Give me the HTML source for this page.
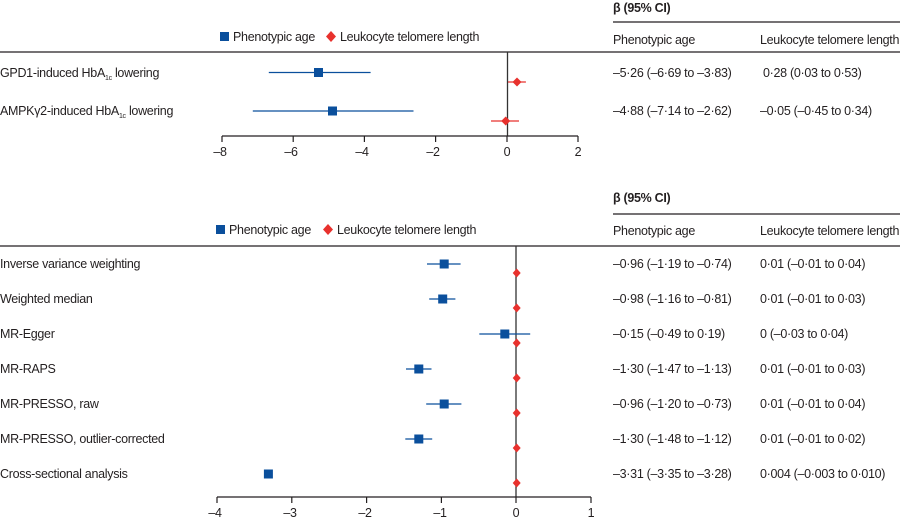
<!DOCTYPE html>
<html><head><meta charset="utf-8"><style>
html,body{margin:0;padding:0;background:#fff;}
svg{display:block;font-family:"Liberation Sans",sans-serif;}
text{font-size:12.5px;letter-spacing:-0.3px;fill:#231f20;}
</style></head><body>
<svg width="900" height="517" viewBox="0 0 900 517">
<!-- TOP PANEL -->
<text x="613" y="12" style="font-weight:bold">β (95% CI)</text>
<line x1="613" y1="22" x2="900" y2="22" stroke="#231f20" stroke-width="1.2"/>
<rect x="220" y="32" width="9" height="9" fill="#0a4f9c"/>
<text x="233" y="41">Phenotypic age</text>
<path d="M331 31 L336 36.5 L331 42 L326 36.5Z" fill="#e8312d"/>
<text x="340" y="41">Leukocyte telomere length</text>
<text x="613" y="44">Phenotypic age</text>
<text x="760" y="44">Leukocyte telomere length</text>
<line x1="0" y1="52" x2="900" y2="52" stroke="#231f20" stroke-width="1.3"/>
<text x="0" y="77">GPD1-induced HbA<tspan font-size="7" dy="3">1c</tspan><tspan dy="-3"> lowering</tspan></text>
<text x="0" y="115">AMPKγ2-induced HbA<tspan font-size="7" dy="3">1c</tspan><tspan dy="-3"> lowering</tspan></text>
<text x="613" y="77">–5·26 (–6·69 to –3·83)</text>
<text x="763" y="77">0·28 (0·03 to 0·53)</text>
<text x="613" y="115">–4·88 (–7·14 to –2·62)</text>
<text x="760" y="115">–0·05 (–0·45 to 0·34)</text>
<line x1="507.5" y1="52" x2="507.5" y2="136" stroke="#333" stroke-width="1.3"/>
<line x1="268.8" y1="72.5" x2="370.6" y2="72.5" stroke="#0a4f9c" stroke-width="1.3"/>
<rect x="314" y="68" width="9" height="9" fill="#0a4f9c"/>
<line x1="508" y1="82" x2="525.9" y2="82" stroke="#e8312d" stroke-width="1.3"/>
<path d="M517 77.5 L521.5 82 L517 86.5 L512.5 82Z" fill="#e8312d"/>
<line x1="252.8" y1="111" x2="413.5" y2="111" stroke="#0a4f9c" stroke-width="1.3"/>
<rect x="328" y="106.5" width="9" height="9" fill="#0a4f9c"/>
<line x1="491" y1="121" x2="519" y2="121" stroke="#e8312d" stroke-width="1.3"/>
<path d="M505.7 116.5 L510.2 121 L505.7 125.5 L501.2 121Z" fill="#e8312d"/>
<line x1="222" y1="136" x2="578" y2="136" stroke="#231f20" stroke-width="1.2"/>
<g stroke="#231f20" stroke-width="1.2">
<line x1="222" y1="136" x2="222" y2="142"/><line x1="293.2" y1="136" x2="293.2" y2="142"/>
<line x1="364.4" y1="136" x2="364.4" y2="142"/><line x1="435.6" y1="136" x2="435.6" y2="142"/>
<line x1="507" y1="136" x2="507" y2="142"/><line x1="578" y1="136" x2="578" y2="142"/></g>
<g text-anchor="middle">
<text x="220" y="156">–8</text><text x="291" y="156">–6</text><text x="362" y="156">–4</text>
<text x="433" y="156">–2</text><text x="507" y="156">0</text><text x="578" y="156">2</text></g>

<!-- BOTTOM PANEL -->
<text x="613" y="202" style="font-weight:bold">β (95% CI)</text>
<line x1="613" y1="214" x2="900" y2="214" stroke="#231f20" stroke-width="1.2"/>
<rect x="216" y="225" width="9" height="9" fill="#0a4f9c"/>
<text x="229" y="234">Phenotypic age</text>
<path d="M328 224 L333 229.5 L328 235 L323 229.5Z" fill="#e8312d"/>
<text x="337" y="234">Leukocyte telomere length</text>
<text x="613" y="235">Phenotypic age</text>
<text x="760" y="235">Leukocyte telomere length</text>
<line x1="0" y1="246" x2="900" y2="246" stroke="#231f20" stroke-width="1.3"/>
<line x1="516" y1="246" x2="516" y2="497" stroke="#333" stroke-width="1.3"/>

<text x="0" y="268">Inverse variance weighting</text>
<text x="0" y="303">Weighted median</text>
<text x="0" y="338">MR-Egger</text>
<text x="0" y="373">MR-RAPS</text>
<text x="0" y="408">MR-PRESSO, raw</text>
<text x="0" y="443">MR-PRESSO, outlier-corrected</text>
<text x="0" y="478">Cross-sectional analysis</text>

<text x="613" y="268">–0·96 (–1·19 to –0·74)</text>
<text x="613" y="303">–0·98 (–1·16 to –0·81)</text>
<text x="613" y="338">–0·15 (–0·49 to 0·19)</text>
<text x="613" y="373">–1·30 (–1·47 to –1·13)</text>
<text x="613" y="408">–0·96 (–1·20 to –0·73)</text>
<text x="613" y="443">–1·30 (–1·48 to –1·12)</text>
<text x="613" y="478">–3·31 (–3·35 to –3·28)</text>
<text x="760" y="268">0·01 (–0·01 to 0·04)</text>
<text x="760" y="303">0·01 (–0·01 to 0·03)</text>
<text x="760" y="338">0 (–0·03 to 0·04)</text>
<text x="760" y="373">0·01 (–0·01 to 0·03)</text>
<text x="760" y="408">0·01 (–0·01 to 0·04)</text>
<text x="760" y="443">0·01 (–0·01 to 0·02)</text>
<text x="760" y="478">0·004 (–0·003 to 0·010)</text>

<g stroke="#0a4f9c" stroke-width="1.3">
<line x1="427" y1="264" x2="460.6" y2="264"/>
<line x1="429.2" y1="299" x2="455.4" y2="299"/>
<line x1="479.3" y1="334" x2="530.2" y2="334"/>
<line x1="406" y1="369" x2="431.5" y2="369"/>
<line x1="426.2" y1="404" x2="461.4" y2="404"/>
<line x1="405.3" y1="439" x2="432.2" y2="439"/>
</g>
<g fill="#0a4f9c">
<rect x="439.7" y="259.5" width="9" height="9"/>
<rect x="438.2" y="294.5" width="9" height="9"/>
<rect x="500.3" y="329.5" width="9" height="9"/>
<rect x="414.3" y="364.5" width="9" height="9"/>
<rect x="439.7" y="399.5" width="9" height="9"/>
<rect x="414.3" y="434.5" width="9" height="9"/>
<rect x="263.9" y="469.5" width="9" height="9"/>
</g>
<g fill="#e8312d">
<path d="M516.7 268.5 L520.7 273 L516.7 277.5 L512.7 273Z"/>
<path d="M516.7 303.5 L520.7 308 L516.7 312.5 L512.7 308Z"/>
<path d="M516.7 338.5 L520.7 343 L516.7 347.5 L512.7 343Z"/>
<path d="M516.7 373.5 L520.7 378 L516.7 382.5 L512.7 378Z"/>
<path d="M516.7 408.5 L520.7 413 L516.7 417.5 L512.7 413Z"/>
<path d="M516.7 443.5 L520.7 448 L516.7 452.5 L512.7 448Z"/>
<path d="M516.7 478.5 L520.7 483 L516.7 487.5 L512.7 483Z"/>
</g>

<line x1="217" y1="497" x2="591" y2="497" stroke="#231f20" stroke-width="1.2"/>
<g stroke="#231f20" stroke-width="1.2">
<line x1="217" y1="497" x2="217" y2="503"/><line x1="291.8" y1="497" x2="291.8" y2="503"/>
<line x1="366.6" y1="497" x2="366.6" y2="503"/><line x1="441.4" y1="497" x2="441.4" y2="503"/>
<line x1="516" y1="497" x2="516" y2="503"/><line x1="591" y1="497" x2="591" y2="503"/></g>
<g text-anchor="middle">
<text x="215" y="517">–4</text><text x="290" y="517">–3</text><text x="365" y="517">–2</text>
<text x="440" y="517">–1</text><text x="516" y="517">0</text><text x="591" y="517">1</text></g>
</svg>
</body></html>
